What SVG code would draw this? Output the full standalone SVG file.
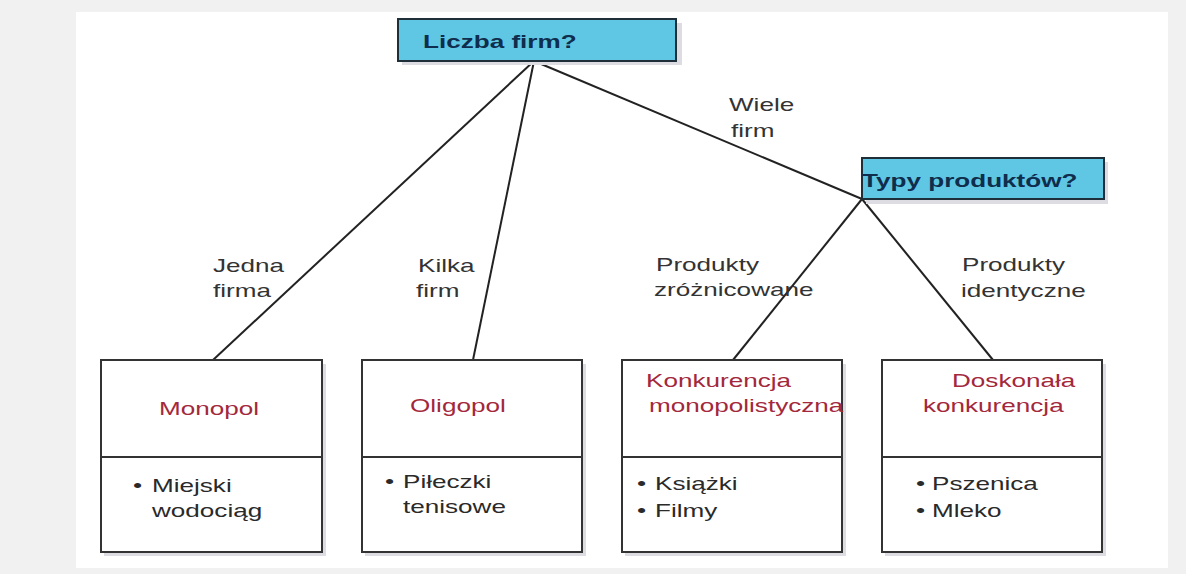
<svg xmlns="http://www.w3.org/2000/svg" width="1186" height="574" viewBox="0 0 1186 574">
<style>
  text { font-family: "Liberation Sans", Arial, sans-serif; font-size: 18px; }
  .q { font-weight: bold; fill: #0f2d4c; }
  .lbl { fill: #333333; }
  .title { fill: #a3283c; }
  .item { fill: #2a2a2a; }
  .qbox { fill: #5fc7e3; stroke: #1f2f3a; stroke-width: 2; }
  .box { fill: #ffffff; stroke: #333333; stroke-width: 2; }
  .shadow { fill: #dcdce2; }
  .conn line { stroke: #222222; stroke-width: 2; }
</style>
<rect x="0" y="0" width="1186" height="574" fill="#f1f1f1"/>
<rect x="76" y="12" width="1092" height="556" fill="#ffffff"/>

<g id="conn" class="conn">
  <line x1="534" y1="61" x2="213" y2="360"/>
  <line x1="534" y1="61" x2="473" y2="360"/>
  <line x1="534" y1="61" x2="862" y2="199"/>
  <line x1="862" y1="199" x2="733" y2="360"/>
  <line x1="862" y1="199" x2="993" y2="360"/>
</g>

<g id="labels">
  <text class="lbl" transform="translate(213 272) scale(1.45 1)">Jedna</text>
  <text class="lbl" transform="translate(213 297) scale(1.45 1)">firma</text>
  <text class="lbl" transform="translate(418 272) scale(1.45 1)">Kilka</text>
  <text class="lbl" transform="translate(416 297) scale(1.45 1)">firm</text>
  <text class="lbl" transform="translate(729 111) scale(1.45 1)">Wiele</text>
  <text class="lbl" transform="translate(731 137) scale(1.45 1)">firm</text>
  <text class="lbl" transform="translate(656 271) scale(1.45 1)">Produkty</text>
  <text class="lbl" transform="translate(654 296) scale(1.45 1)">zróżnicowane</text>
  <text class="lbl" transform="translate(962 271) scale(1.45 1)">Produkty</text>
  <text class="lbl" transform="translate(961 297) scale(1.45 1)">identyczne</text>
</g>

<g id="q-liczba">
  <rect class="shadow" x="402" y="23" width="280" height="42"/>
  <rect class="qbox" x="398" y="19" width="278" height="42"/>
  <text class="q" transform="translate(423 48) scale(1.45 1)">Liczba firm?</text>
</g>

<g id="q-typy">
  <rect class="shadow" x="866" y="162" width="242" height="42"/>
  <rect class="qbox" x="862" y="158" width="242" height="41"/>
  <text class="q" transform="translate(862 187) scale(1.45 1)">Typy produktów?</text>
</g>

<g id="monopol">
  <rect class="shadow" x="104" y="364" width="222" height="192"/>
  <rect class="box" x="101" y="360" width="221" height="192"/>
  <line x1="101" y1="457" x2="322" y2="457" stroke="#333333" stroke-width="2"/>
  <text class="title" transform="translate(159 415) scale(1.45 1)">Monopol</text>
  <text class="item" transform="translate(133 492) scale(1.45 1)">•</text>
  <text class="item" transform="translate(152 492) scale(1.45 1)">Miejski</text>
  <text class="item" transform="translate(152 517) scale(1.45 1)">wodociąg</text>
</g>

<g id="oligopol">
  <rect class="shadow" x="365" y="364" width="221" height="192"/>
  <rect class="box" x="362" y="360" width="220" height="192"/>
  <line x1="362" y1="457" x2="582" y2="457" stroke="#333333" stroke-width="2"/>
  <text class="title" transform="translate(410 412) scale(1.45 1)">Oligopol</text>
  <text class="item" transform="translate(385 488) scale(1.45 1)">•</text>
  <text class="item" transform="translate(403 488) scale(1.45 1)">Piłeczki</text>
  <text class="item" transform="translate(403 513) scale(1.45 1)">tenisowe</text>
</g>

<g id="konkurencja-monopolistyczna">
  <rect class="shadow" x="625" y="364" width="221" height="192"/>
  <rect class="box" x="622" y="360" width="220" height="192"/>
  <line x1="622" y1="457" x2="842" y2="457" stroke="#333333" stroke-width="2"/>
  <text class="title" transform="translate(646 387) scale(1.45 1)">Konkurencja</text>
  <text class="title" transform="translate(649 412) scale(1.45 1)">monopolistyczna</text>
  <text class="item" transform="translate(637 490) scale(1.45 1)">•</text>
  <text class="item" transform="translate(655 490) scale(1.45 1)">Książki</text>
  <text class="item" transform="translate(637 517) scale(1.45 1)">•</text>
  <text class="item" transform="translate(655 517) scale(1.45 1)">Filmy</text>
</g>

<g id="doskonala-konkurencja">
  <rect class="shadow" x="885" y="364" width="221" height="192"/>
  <rect class="box" x="882" y="360" width="220" height="192"/>
  <line x1="882" y1="457" x2="1102" y2="457" stroke="#333333" stroke-width="2"/>
  <text class="title" transform="translate(952 387) scale(1.45 1)">Doskonała</text>
  <text class="title" transform="translate(923 412) scale(1.45 1)">konkurencja</text>
  <text class="item" transform="translate(916 490) scale(1.45 1)">•</text>
  <text class="item" transform="translate(932 490) scale(1.45 1)">Pszenica</text>
  <text class="item" transform="translate(916 517) scale(1.45 1)">•</text>
  <text class="item" transform="translate(932 517) scale(1.45 1)">Mleko</text>
</g>
</svg>
